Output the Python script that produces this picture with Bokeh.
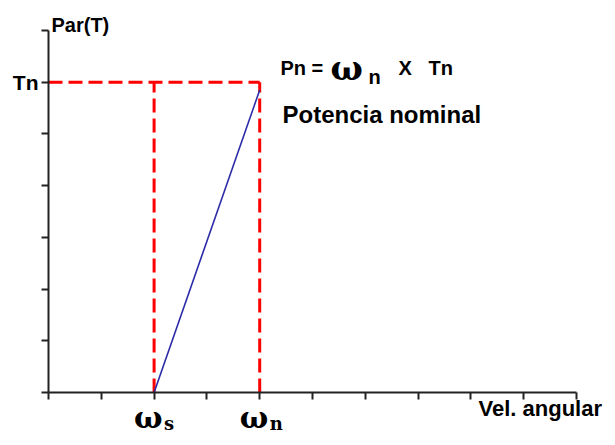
from bokeh.plotting import figure
from bokeh.models import FixedTicker, Label, Range1d
from bokeh.embed import file_html
from bokeh.resources import INLINE

# ---- data ----
x_ticks = list(range(0, 11))
y_ticks = list(range(0, 8))
w_s = 2.0        # synchronous speed
w_n = 4.0        # nominal speed
T_n = 6.0        # nominal torque
line_x = [w_s, w_n]
line_y = [0.0, 5.85]
rect_h_x = [0.0, w_n]
rect_h_y = [T_n, T_n]
y_label_overrides = {6: "Tn"}
title_y = "Par(T)"
title_x = "Vel. angular"
formula_parts = ["Pn =", "\u03c9", "n", "X", "Tn"]
caption = "Potencia nominal"
speed_symbols = ["\u03c9", "\u03c9"]
speed_subs = ["s", "n"]

W, H = 607, 437
PX0, PXS = 48, 52.8     # pixel of x=0, pixels per x unit
PY0, PYS = 392, 51.71   # pixel of y=0, pixels per y unit

p = figure(width=W, height=H, output_backend="svg", toolbar_location=None,
           x_range=Range1d(-PX0 / PXS, (W - PX0) / PXS),
           y_range=Range1d((PY0 - H) / PYS, PY0 / PYS),
           min_border=0)
p.outline_line_color = None
p.grid.visible = False
p.background_fill_color = "white"
p.border_fill_color = "white"

for ax in (p.xaxis[0], p.yaxis[0]):
    ax.fixed_location = 0
    ax.axis_line_color = "#222222"
    ax.axis_line_width = 2
    ax.major_tick_line_color = "#222222"
    ax.major_tick_line_width = 2
    ax.major_tick_out = 7
    ax.major_tick_in = 0
    ax.minor_tick_line_color = None

p.xaxis.bounds = (x_ticks[0], x_ticks[-1])
p.yaxis.bounds = (y_ticks[0], y_ticks[-1])

p.xaxis.ticker = FixedTicker(ticks=x_ticks)
p.xaxis.major_label_overrides = {t: "" for t in x_ticks}
p.xaxis.major_label_text_font_size = "1px"

p.yaxis.ticker = FixedTicker(ticks=y_ticks)
ov = {t: "" for t in y_ticks}
ov.update(y_label_overrides)
p.yaxis.major_label_overrides = ov
p.yaxis.major_label_standoff = 3
p.yaxis.major_label_text_font = "Liberation Sans"
p.yaxis.major_label_text_font_style = "bold"
p.yaxis.major_label_text_font_size = "21px"
p.yaxis.major_label_text_color = "black"

# red dashed lines
red = "#ff0000"
p.line(rect_h_x, rect_h_y, line_color=red, line_width=3, line_dash="14 6")
p.line([w_s, w_s], [0, T_n], line_color=red, line_width=3, line_dash="14 6")
p.line([w_n, w_n], [0, T_n], line_color=red, line_width=3, line_dash="14 6")
# blue characteristic
p.line(line_x, line_y, line_color="#2b2ba8", line_width=1.6)

def lab(x, py, text, size, font="Liberation Sans", style="bold"):
    # py: wanted baseline in pixels; the text renderer puts it ~0.4em lower
    y = (PY0 - (py - 0.4 * size)) / PYS
    p.add_layout(Label(x=x, y=y, text=text, text_font=font, text_font_style=style,
                       text_font_size=f"{size}px", text_color="black",
                       text_baseline="alphabetic"))

def dx(px):
    return (px - PX0) / PXS

lab(dx(51), 32, title_y, 20)
lab(dx(478), 417, title_x, 22)

lab(dx(280), 75, formula_parts[0], 20)
lab(dx(330), 81, formula_parts[1], 34, font="DejaVu Serif")
lab(dx(368), 84, formula_parts[2], 20)
lab(dx(398), 75, formula_parts[3], 20)
lab(dx(428), 75, formula_parts[4], 20)
lab(dx(282), 124, caption, 24)

# speed symbols under the axis, placed relative to their data positions
for xv, sym, sub in zip([w_s, w_n], speed_symbols, speed_subs):
    lab(xv + dx(133) - dx(153), 429, sym, 30, font="DejaVu Serif")
    lab(xv + dx(163) - dx(153), 430, sub, 18, font="DejaVu Serif")

open("out.html", "w").write(file_html(p, INLINE))
